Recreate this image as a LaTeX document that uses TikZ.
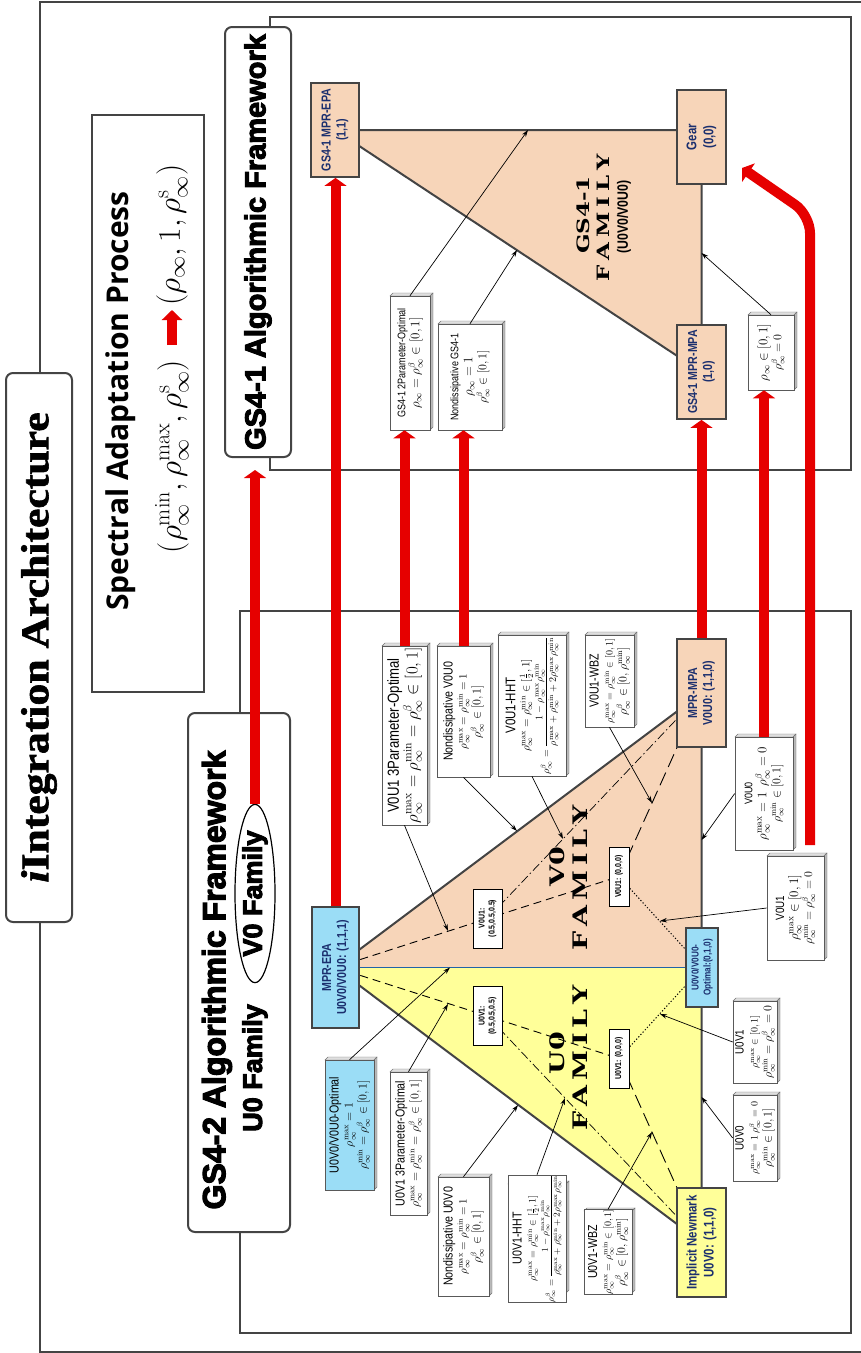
\RequirePackage{fix-cm}
\documentclass[tikz,border=0pt]{standalone}
\usepackage{amsmath}
\usepackage{fontspec}
\newfontfamily\nf[FakeStretch=0.82]{Liberation Sans}
\newfontfamily\heavy[FakeBold=3.5]{Liberation Sans}
\newfontfamily\slab[FakeStretch=1.35]{DejaVu Serif}
\newfontfamily\ttlfont[FakeBold=1.5]{Liberation Serif}
\newfontfamily\spec{Open Sans}
\usetikzlibrary{arrows.meta,shapes.geometric}
\pgfdeclarelayer{bgl}\pgfdeclarelayer{midl}\pgfsetlayers{bgl,midl,main}
\definecolor{fg}{HTML}{444444}
\definecolor{peach}{HTML}{F7D5B9}
\definecolor{yellowc}{HTML}{FFFF99}
\definecolor{cyanc}{HTML}{9BDDF6}
\definecolor{navy}{HTML}{1B2F6E}
\definecolor{bluel}{HTML}{2163A8}
\definecolor{redc}{HTML}{E60000}
\newcommand\fs[2]{\fontsize{#1}{#2}\selectfont}
\newcommand\Rmax{\rho_\infty^{\mathrm{max}}}
\newcommand\Rmin{\rho_\infty^{\mathrm{min}}}
\newcommand\Rbeta{\rho_\infty^{\beta}}
\newcommand\Rinf{\rho_\infty}
\newcommand\famword{F\hspace{5pt}A\hspace{5pt}M\hspace{5pt}I\hspace{5pt}L\hspace{5pt}Y}
% #1 name, #2 fill, #3 x1, #4 y1, #5 x2, #6 y2 (outer extents incl. 3D edge), #7 text
\newcommand\tdbox[7]{%
  \filldraw[fill=gray!25, draw=black!55, line width=0.4pt] (#3,{#4+3}) -- ({#3+3},#4) -- (#5,#4) -- ({#5-3},{#4+3}) -- cycle;
  \filldraw[fill=gray!55, draw=black!55, line width=0.4pt] ({#5-3},{#4+3}) -- (#5,#4) -- (#5,{#6-3}) -- ({#5-3},#6) -- cycle;
  \node[tbox, fill=#2, minimum width={(#6-#4-3)*1pt}, minimum height={(#5-#3-3)*1pt}] (#1) at ({(#3+#5-3)/2},{(#4+3+#6)/2}) {#7};
}
\begin{document}
\begin{tikzpicture}[x=1pt,y=-1pt,
  frame/.style={draw=fg, line width=2pt},
  rbox/.style={draw=fg, line width=2pt, rounded corners=7pt, fill=white, rotate=90, inner sep=0pt},
  cbox/.style={draw=fg, line width=1.8pt, rotate=90, inner sep=0pt, align=center, text=navy, font=\nf\bfseries\fs{13}{15}},
  tbox/.style={draw=black!65, line width=0.6pt, rotate=90, inner sep=0pt, align=center, font=\nf\fs{12}{14}},
  lbl/.style={draw=black, line width=0.9pt, fill=white, rotate=90, inner sep=1pt, align=center, font=\nf\bfseries\fs{8.5}{10}},
  ann/.style={-{Stealth[length=7pt,width=4.5pt]}, line width=0.7pt},
  redarrow/.style={draw=redc, line width=10pt, -{Triangle[width=22pt,length=8pt]}},
  edge/.style={draw=fg, line width=2pt},
  dsh/.style={line width=0.9pt, dash pattern=on 8pt off 5pt},
  ldsh/.style={line width=0.9pt, dash pattern=on 14pt off 6pt},
  dshdot/.style={line width=0.7pt, dash pattern=on 9pt off 3pt on 1.5pt off 3pt},
  dotl/.style={line width=1pt, dash pattern=on 1.2pt off 2pt},
  famtext/.style={rotate=90, inner sep=0pt, font=\slab\bfseries\fs{20}{22}},
  heavytext/.style={rotate=90, inner sep=0pt, font=\heavy\bfseries\fs{27}{30}}
]
\useasboundingbox (0,0) rectangle (861,1353);
\begin{pgfonlayer}{bgl}
\fill[white] (0,0) rectangle (861,1353);
\end{pgfonlayer}

% ---------- outer frame and panels ----------
\draw[frame] (40,373) -- (40,1.5) -- (862,1.5);
\draw[frame] (40,922) -- (40,1351.5) -- (862,1351.5);
\draw[frame, line width=1.6pt] (270,17) rectangle (851,470);
\draw[frame, line width=1.6pt] (240,611) rectangle (851,1333);

\node[rbox, minimum width=549pt, minimum height=66pt] (title) at (39,647.5) {};
\node[rotate=90, xscale=1.12, inner sep=0pt, font=\ttlfont\bfseries\fs{39}{42}] (titletext) at (39,647.5) {{\itshape i}Integration Architecture};

\node[draw=fg, line width=2pt, rotate=90, minimum width=577pt, minimum height=112pt, inner sep=0pt] (specbox) at (148,403.5) {};
\node[rotate=90, inner sep=0pt, font=\spec\bfseries\fs{30}{33}] (spectitle) at (121,401) {Spectral Adaptation Process};
\node[rotate=90, anchor=east, inner sep=0pt, font=\fs{31.5}{35}] (specL) at (172,360) {$(\rho_\infty^{\mathrm{min}},\rho_\infty^{\mathrm{max}},\rho_\infty^{\mathrm{s}})$};
\node[rotate=90, anchor=west, inner sep=0pt, font=\fs{31.5}{35}] (specR) at (172,306) {$(\rho_\infty,1,\rho_\infty^{\mathrm{s}})$};
\draw[redc, line width=10pt, -{Triangle[width=20pt,length=10pt]}, shorten <=15pt, shorten >=4pt] (specL.east) -- (specR.west);

\node[rbox, minimum width=430pt, minimum height=66pt, font=\heavy\bfseries\fs{29}{32}] (gs1) at (258,242) {GS4-1 Algorithmic Framework};
\node[rbox, minimum width=519pt, minimum height=102pt] (gs2) at (239,972.5) {};
\node[heavytext, font=\heavy\bfseries\fs{32}{34}] (gs2t) at (217,980) {GS4-2 Algorithmic Framework};
\node[draw=black, line width=1.2pt, fill=white, ellipse, rotate=90, minimum width=167pt, minimum height=40pt, inner sep=0pt, font=\heavy\bfseries\fs{27}{30}] (v0fam) at (255,893.5) {V0 Family};
\node[heavytext] (u0fam) at (255,1068) {U0 Family};

% ---------- GS4-1 family ----------
\node[cbox, fill=peach, minimum width=94pt, minimum height=48pt] (g1epa) at (335,130) {GS4-1 MPR-EPA\\(1,1)};
\node[cbox, fill=peach, minimum width=94pt, minimum height=49pt, font=\nf\bfseries\fs{14}{17}] (gear) at (701.5,137) {Gear\\(0,0)};
\node[cbox, fill=peach, minimum width=94pt, minimum height=49pt] (g1mpa) at (701.5,372) {GS4-1 MPR-MPA\\(1,0)};
\coordinate (g1corner) at (701.5,130);
\node[famtext, font=\slab\bfseries\fs{17}{19}] (gsfamA) at (583,215) {GS4-1};
\node[famtext, font=\slab\bfseries\fs{17}{19}] (gsfamB) at (603,218) {\famword};
\node[rotate=90, inner sep=0pt, font=\nf\bfseries\fs{15}{17}] (gsfamC) at (624,217) {(U0V0/V0U0)};

\tdbox{g1two}{white}{390}{293}{433}{430}{\fs{11}{13}GS4-1 2Parameter-Optimal\\ \fs{13}{16}$\Rinf=\Rbeta\in[0,1]$}
\tdbox{g1nd}{white}{438}{321}{505}{430}{\fs{11}{13}Nondissipative GS4-1\\ \fs{13}{16}$\Rinf=1$\\ $\Rbeta\in[0,1]$}
\tdbox{g1rho}{white}{748}{312}{797}{390}{\fs{13}{16}$\Rinf\in[0,1]$\\ $\Rbeta=0$}

\coordinate (tG2) at (528,130);
\coordinate (tGnd) at (517,250);
\coordinate (tGrho) at (701.5,253);

% ---------- GS4-2 family ----------
\node[cbox, fill=cyanc, minimum width=121pt, minimum height=47pt] (epa) at (335.5,967.5) {MPR-EPA\\U0V0/V0U0: (1,1,1)};
\node[cbox, fill=peach, minimum width=108pt, minimum height=49pt] (mpa) at (701.5,693) {MPR-MPA\\V0U0: (1,1,0)};
\node[cbox, fill=cyanc, minimum width=79pt, minimum height=32pt, font=\nf\bfseries\fs{10}{12}] (opt) at (702,967.5) {U0V0/V0U0-\\Optimal:(0,1,0)};
\node[cbox, fill=yellowc, minimum width=109pt, minimum height=49pt, font=\nf\bfseries\fs{14}{17}] (newmark) at (701.5,1242.5) {Implicit Newmark\\U0V0: (1,1,0)};

\node[lbl, minimum width=59pt, minimum height=29pt] (va) at (487.5,918.5) {V0U1:\\(0.5,0.5,0.5)};
\node[lbl, minimum width=59pt, minimum height=29pt] (ua) at (487.5,1016) {U0V1:\\(0.5,0.5,0.5)};
\node[lbl, minimum width=59pt, minimum height=20pt] (vb) at (619,876.5) {V0U1: (0,0,0)};
\node[lbl, minimum width=59pt, minimum height=20pt] (ub) at (619,1058.5) {U0V1: (0,0,0)};

\node[famtext] (vfamA) at (557,867) {V0};
\node[famtext] (vfamB) at (580,878) {\famword};
\node[famtext] (ufamA) at (557,1053) {U0};
\node[famtext] (ufamB) at (580,1058) {\famword};

% V0 boxes
\tdbox{v3p}{white}{382}{643}{430}{825}{\fs{16}{17}V0U1 3Parameter-Optimal\\ \fs{17}{19}$\Rmax=\Rmin=\Rbeta\in[0,1]$}
\tdbox{vnd}{white}{437}{643}{493}{777}{\fs{13}{15}Nondissipative V0U0\\ \fs{11}{13}$\Rmax=\Rmin=1$\\ $\Rbeta\in[0,1]$}
\tdbox{vhht}{white}{498}{632}{569}{776}{\fs{14}{16}V0U1-HHT\\ \fs{11}{14}$\Rmax=\Rmin\in[\frac{1}{2},1]$\\ \fs{10}{13}$\Rbeta=\dfrac{1-\Rmax\Rmin}{\Rmax+\Rmin+2\Rmax\Rmin}$}
\tdbox{vwbz}{white}{585}{632}{637}{727}{\fs{13}{15}V0U1-WBZ\\ \fs{10}{12}$\Rmax=\Rmin\in[0,1]$\\ $\Rbeta\in[0,\Rmin]$}
% right boxes
\tdbox{rv0u0}{white}{735}{734}{796}{850}{\fs{11}{13}V0U0\\ \fs{13}{15}$\Rmax=1\ \ \Rbeta=0$\\ $\Rmin\in[0,1]$}
\tdbox{rv0u1}{white}{767}{853}{827}{960}{\fs{12}{14}V0U1\\ \fs{13}{15}$\Rmax\in[0,1]$\\ $\Rmin=\Rbeta=0$}
\tdbox{ru0v1}{white}{733}{998}{780}{1083}{\fs{12}{13}U0V1\\ \fs{10}{11}$\Rmax\in[0,1]$\\ $\Rmin=\Rbeta=0$}
\tdbox{ru0v0}{white}{733}{1092}{780}{1181}{\fs{12}{13}U0V0\\ \fs{10}{11}$\Rmax=1\ \Rbeta=0$\\ $\Rmin\in[0,1]$}
% U0 boxes
\tdbox{uopt}{cyanc}{325}{1057}{377}{1190}{\fs{13}{14}U0V0/V0U0-Optimal\\ \fs{12}{13}$\Rmax=1$\\ $\Rmin=\Rbeta\in[0,1]$}
\tdbox{u3p}{white}{390}{1069}{430}{1215}{\fs{13}{14}U0V1 3Parameter-Optimal\\ \fs{12}{14}$\Rmax=\Rmin=\Rbeta\in[0,1]$}
\tdbox{und}{white}{438}{1174}{492}{1296}{\fs{13}{14}Nondissipative U0V0\\ \fs{11}{13}$\Rmax=\Rmin=1$\\ $\Rbeta\in[0,1]$}
\tdbox{uhht}{white}{508}{1181}{569}{1293}{\fs{13}{15}U0V1-HHT\\ \fs{10}{12}$\Rmax=\Rmin\in[\frac{1}{2},1]$\\ \fs{9}{12}$\Rbeta=\dfrac{1-\Rmax\Rmin}{\Rmax+\Rmin+2\Rmax\Rmin}$}
\tdbox{uwbz}{white}{584}{1208}{635}{1293}{\fs{13}{14}U0V1-WBZ\\ \fs{10}{12}$\Rmax=\Rmin\in[0,1]$\\ $\Rbeta\in[0,\Rmin]$}

% targets on lines
\coordinate (tV3p) at (448,931);
\coordinate (tVnd) at (517,831);
\coordinate (tVhht) at (563,839);
\coordinate (tVwbz) at (652,803);
\coordinate (tRv0u0) at (701.5,840);
\coordinate (tRv0u1) at (660,921);
\coordinate (tUopt) at (450,967.5);
\coordinate (tU3p) at (448,1004);
\coordinate (tUnd) at (518,1105);
\coordinate (tUhht) at (565,1098);
\coordinate (tUwbz) at (652,1132);
\coordinate (tRu0v0) at (701.5,1097);
\coordinate (tRu0v1) at (660,1014);

% ---------- layers: fills and lines ----------
\begin{pgfonlayer}{bgl}
  \fill[peach] (g1epa.center) -- (g1corner) -- (g1mpa.center) -- cycle;
  \fill[peach] (epa.center) -- (mpa.center) -- (opt.center) -- cycle;
  \fill[yellowc] (epa.center) -- (opt.center) -- (newmark.center) -- cycle;
\end{pgfonlayer}
\begin{pgfonlayer}{midl}
  \draw[edge] (g1epa.center) -- (g1corner) -- (g1mpa.center) -- cycle;
  \draw[edge] (epa.center) -- (mpa.center) -- (newmark.center) -- cycle;
  \draw[bluel, line width=1.6pt] (epa.center) -- (opt.center);
  \draw[dsh] (epa.center) -- (va.center) -- (vb.center);
  \draw[ldsh] (vb.center) -- (mpa.center);
  \draw[dshdot] (va.center) -- (mpa.center);
  \draw[dotl] (vb.center) -- (opt.center);
  \draw[dsh] (epa.center) -- (ua.center) -- (ub.center);
  \draw[ldsh] (ub.center) -- (newmark.center);
  \draw[dshdot] (ua.center) -- (newmark.center);
  \draw[dotl] (ub.center) -- (opt.center);
\end{pgfonlayer}

% ---------- annotation arrows ----------
\draw[ann] (g1two.east) -- (tG2);
\draw[ann] (g1nd.east) -- (tGnd);
\draw[ann] (g1rho.east) -- (tGrho);
\draw[ann] (v3p.west) -- (tV3p);
\draw[ann] (vnd.west) -- (tVnd);
\draw[ann] (vhht.west) -- (tVhht);
\draw[ann] (vwbz.west) -- (tVwbz);
\draw[ann] (rv0u0.north) -- (tRv0u0);
\draw[ann] (rv0u1.north) -- (tRv0u1);
\draw[ann] (ru0v1.north) -- (tRu0v1);
\draw[ann] (ru0v0.north) -- (tRu0v0);
\draw[ann] (uopt.east) -- (tUopt);
\draw[ann] (u3p.east) -- (tU3p);
\draw[ann] (und.east) -- (tUnd);
\draw[ann] (uhht.east) -- (tUhht);
\draw[ann] (uwbz.east) -- (tUwbz);

% ---------- red arrows ----------
\coordinate (a1end) at (255,470);
\coordinate (c7) at (810,845);
\coordinate (c7tip) at (742,168);
\draw[redarrow] (v0fam.east) -- (a1end);
\draw[redarrow] (epa.east) -- (epa.east |- g1epa.west);
\draw[redarrow] (v3p.east) -- (v3p.east |- g1two.west);
\draw[redarrow] (vnd.east) -- (vnd.east |- g1nd.west);
\draw[redarrow] (mpa.east) -- (g1mpa.west);
\draw[redarrow] (rv0u0.east) -- (rv0u0.east |- g1rho.west);
\draw[redarrow, rounded corners=18pt] (c7) -- (810,215) -- (c7tip);
\end{tikzpicture}
\end{document}
